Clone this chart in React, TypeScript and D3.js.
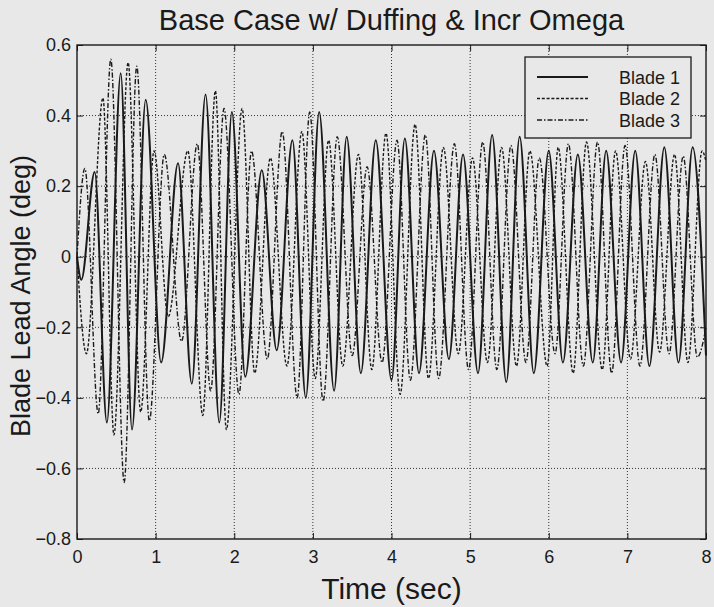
import React, { useEffect, useRef } from 'react'
import * as d3 from 'd3'

// values: turning points (peaks / troughs) of each blade
const blade1Time = [0, 0.055, 0.225, 0.38, 0.556, 0.7, 0.874, 1.07, 1.285, 1.46, 1.635, 1.81, 1.97, 2.14, 2.35, 2.54, 2.74, 2.91, 3.08, 3.27, 3.43, 3.61, 3.8, 4.0, 4.17, 4.35, 4.54, 4.73, 4.91, 5.1, 5.28, 5.46, 5.63, 5.81, 6.0, 6.18, 6.37, 6.56, 6.73, 6.92, 7.1, 7.28, 7.47, 7.65, 7.83, 8.0]
const blade1Angle = [0, -0.065, 0.24, -0.47, 0.52, -0.49, 0.445, -0.3, 0.265, -0.36, 0.46, -0.47, 0.41, -0.34, 0.245, -0.265, 0.33, -0.4, 0.41, -0.38, 0.34, -0.33, 0.33, -0.35, 0.335, -0.33, 0.3, -0.29, 0.29, -0.33, 0.345, -0.355, 0.34, -0.33, 0.3, -0.3, 0.29, -0.3, 0.3, -0.3, 0.3, -0.31, 0.31, -0.3, 0.31, -0.28]

const blade2Time = [0, 0.12, 0.33, 0.47, 0.65, 0.81, 0.98, 1.16, 1.41, 1.6, 1.76, 1.9, 2.1, 2.26, 2.46, 2.67, 2.86, 3.03, 3.2, 3.38, 3.58, 3.75, 3.93, 4.11, 4.3, 4.47, 4.66, 4.85, 5.03, 5.22, 5.4, 5.59, 5.76, 5.98, 6.12, 6.31, 6.48, 6.68, 6.85, 7.04, 7.23, 7.41, 7.6, 7.77, 7.95, 8.0]
const blade2Angle = [0, -0.275, 0.45, -0.505, 0.55, -0.44, 0.3, -0.17, 0.3, -0.45, 0.47, -0.49, 0.42, -0.33, 0.28, -0.31, 0.355, -0.345, 0.33, -0.31, 0.29, -0.32, 0.35, -0.39, 0.375, -0.345, 0.31, -0.275, 0.28, -0.3, 0.31, -0.31, 0.3, -0.31, 0.31, -0.33, 0.325, -0.32, 0.3, -0.29, 0.27, -0.27, 0.29, -0.3, 0.3, 0.27]

const blade3Time = [0, 0.1, 0.27, 0.43, 0.6, 0.76, 0.92, 1.11, 1.33, 1.53, 1.7, 1.87, 2.06, 2.22, 2.42, 2.61, 2.8, 2.96, 3.13, 3.31, 3.5, 3.69, 3.88, 4.07, 4.24, 4.43, 4.6, 4.8, 4.98, 5.16, 5.34, 5.52, 5.71, 5.88, 6.08, 6.25, 6.44, 6.62, 6.8, 6.97, 7.16, 7.35, 7.53, 7.71, 7.89, 8.0]
const blade3Angle = [0, 0.25, -0.445, 0.56, -0.64, 0.54, -0.465, 0.29, -0.24, 0.32, -0.38, 0.42, -0.39, 0.3, -0.29, 0.355, -0.4, 0.41, -0.41, 0.34, -0.28, 0.255, -0.3, 0.33, -0.35, 0.345, -0.345, 0.32, -0.32, 0.325, -0.32, 0.315, -0.3, 0.28, -0.275, 0.32, -0.31, 0.325, -0.33, 0.315, -0.31, 0.29, -0.275, 0.285, -0.285, -0.2]

const xTicks = [0, 1, 2, 3, 4, 5, 6, 7, 8]
const yTicks = [-0.8, -0.6, -0.4, -0.2, 0, 0.2, 0.4, 0.6]
const legendNames = ['Blade 1', 'Blade 2', 'Blade 3']

const W = 714
const H = 607
const BG = '#e8e8e8'
const INK = '#1a1a1a'
const FONT = '"Liberation Sans", Arial, Helvetica, sans-serif'

const BladeChart = () => {
  const svgRef = useRef<SVGSVGElement>(null)

  useEffect(() => {
    document.body.style.margin = '0'
    document.body.style.background = BG

    const margin = { top: 45, right: 8, bottom: 68, left: 77 }
    const width = W - margin.left - margin.right
    const height = H - margin.top - margin.bottom

    const root = d3.select(svgRef.current)
    root.selectAll('*').remove()
    root.attr('width', W).attr('height', H)
    root.append('rect').attr('width', W).attr('height', H).attr('fill', BG)

    const svg = root.append('g').attr('transform', `translate(${margin.left},${margin.top})`)

    const xScale = d3.scaleLinear().domain([0, 8]).range([0, width])
    const yScale = d3.scaleLinear().domain([-0.8, 0.6]).range([height, 0])

    // dotted grid
    const grid = svg.append('g').attr('stroke', '#333').attr('stroke-width', 1).attr('stroke-dasharray', '1,2')
    grid
      .selectAll('.vg')
      .data(xTicks.slice(1, -1))
      .enter()
      .append('line')
      .attr('x1', (d) => xScale(d))
      .attr('x2', (d) => xScale(d))
      .attr('y1', 0)
      .attr('y2', height)
    grid
      .selectAll('.hg')
      .data(yTicks.slice(1, -1))
      .enter()
      .append('line')
      .attr('x1', 0)
      .attr('x2', width)
      .attr('y1', (d) => yScale(d))
      .attr('y2', (d) => yScale(d))

    // axes, ticks pointing inward on all four sides
    const styleAxis = (g) => {
      g.select('.domain').remove()
      g.selectAll('line').attr('stroke', INK).attr('stroke-width', 1)
      g.selectAll('text').attr('fill', INK).style('font-family', FONT).style('font-size', '18px')
    }
    svg
      .append('g')
      .attr('transform', `translate(0,${height})`)
      .call(d3.axisBottom(xScale).tickValues(xTicks).tickFormat(d3.format('d')).tickSizeInner(-6).tickSizeOuter(0).tickPadding(11))
      .call(styleAxis)
    svg
      .append('g')
      .call(d3.axisTop(xScale).tickValues(xTicks).tickFormat(() => '').tickSizeInner(-6).tickSizeOuter(0))
      .call(styleAxis)
    svg
      .append('g')
      .call(d3.axisLeft(yScale).tickValues(yTicks).tickFormat((d) => (d === 0 ? '0' : d3.format('.1f')(d))).tickSizeInner(-6).tickSizeOuter(0).tickPadding(6))
      .call(styleAxis)
    svg
      .append('g')
      .attr('transform', `translate(${width},0)`)
      .call(d3.axisRight(yScale).tickValues(yTicks).tickFormat(() => '').tickSizeInner(-6).tickSizeOuter(0))
      .call(styleAxis)

    // the three blade traces
    const line = d3
      .line()
      .x((d) => xScale(d[0]))
      .y((d) => yScale(d[1]))
      .curve(d3.curveMonotoneX)

    const series = [
      { t: blade3Time, v: blade3Angle, dash: '5,2,1.5,2', w: 1.4 },
      { t: blade2Time, v: blade2Angle, dash: '3,1.8', w: 1.4 },
      { t: blade1Time, v: blade1Angle, dash: null, w: 2 },
    ]
    series.forEach((s) => {
      svg
        .append('path')
        .datum(s.t.map((t, i) => [t, s.v[i]]))
        .attr('d', line)
        .attr('fill', 'none')
        .attr('stroke', INK)
        .attr('stroke-width', s.w)
        .attr('stroke-dasharray', s.dash)
        .attr('stroke-linejoin', 'round')
    })

    // frame
    svg
      .append('rect')
      .attr('width', width)
      .attr('height', height)
      .attr('fill', 'none')
      .attr('stroke', INK)
      .attr('stroke-width', 1.4)

    // legend
    const lg = svg.append('g').attr('transform', `translate(${448},${12})`)
    lg.append('rect').attr('width', 166).attr('height', 81).attr('fill', BG).attr('stroke', INK).attr('stroke-width', 1.3)
    const dashes = [null, '3,1.8', '5,2,1.5,2']
    const entry = lg
      .selectAll('.legend')
      .data(legendNames)
      .enter()
      .append('g')
      .attr('class', 'legend')
      .attr('transform', (d, i) => `translate(0,${20 + i * 21.5})`)
    entry
      .append('line')
      .attr('x1', 12)
      .attr('x2', 63)
      .attr('stroke', INK)
      .attr('stroke-width', (d, i) => (i === 0 ? 1.8 : 1.3))
      .attr('stroke-dasharray', (d, i) => dashes[i])
    entry
      .append('text')
      .text((d) => d)
      .attr('x', 155)
      .attr('y', 6.5)
      .attr('text-anchor', 'end')
      .attr('fill', INK)
      .style('font-family', FONT)
      .style('font-size', '18px')

    // title and axis labels
    svg
      .append('text')
      .text('Base Case w/ Duffing & Incr Omega')
      .attr('x', width / 2)
      .attr('y', -15)
      .attr('text-anchor', 'middle')
      .attr('fill', INK)
      .style('font-family', FONT)
      .style('font-size', '29px')
    svg
      .append('text')
      .text('Time (sec)')
      .attr('x', width / 2)
      .attr('y', height + 60)
      .attr('text-anchor', 'middle')
      .attr('fill', INK)
      .style('font-family', FONT)
      .style('font-size', '30px')
    svg
      .append('text')
      .text('Blade Lead Angle (deg)')
      .attr('transform', 'rotate(-90)')
      .attr('x', -(height / 2) - 4)
      .attr('y', -47)
      .attr('text-anchor', 'middle')
      .attr('fill', INK)
      .style('font-family', FONT)
      .style('font-size', '27px')
  }, [])

  return <svg ref={svgRef} style={{ position: 'absolute', left: 0, top: 0, display: 'block' }}></svg>
}

export default function App() {
  return <BladeChart />
}
